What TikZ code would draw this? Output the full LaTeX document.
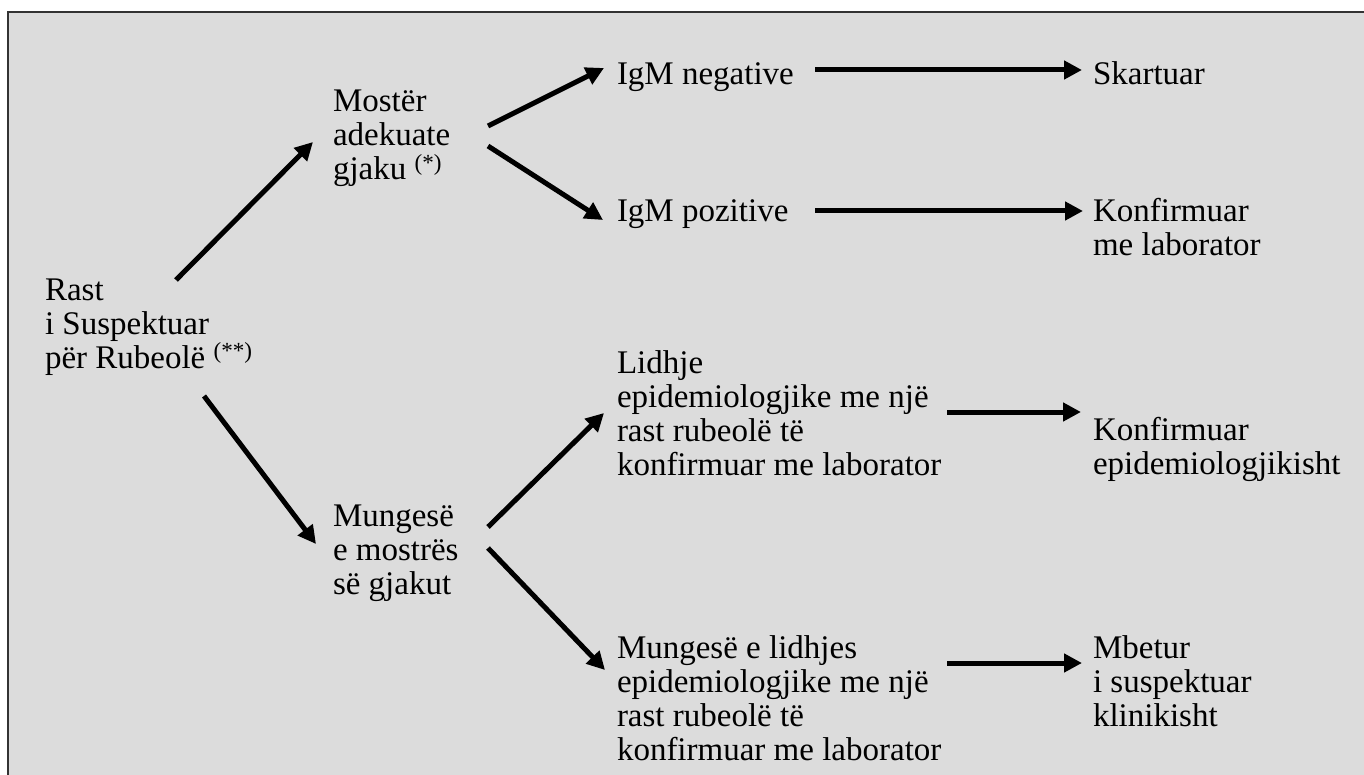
\documentclass[tikz,border=0pt]{standalone}
\usepackage{fontspec}
\setmainfont{Liberation Serif}
\usetikzlibrary{arrows.meta}
\definecolor{bg}{HTML}{DCDCDC}
\definecolor{framec}{HTML}{333333}
\begin{document}
\begin{tikzpicture}[x=1pt,y=-1pt,
  lbl/.style={anchor=base west,inner sep=0pt,outer sep=0pt,align=left,font=\fontsize{33}{34}\selectfont},
  arr/.style={line width=5pt,-{Triangle[length=18pt,width=18pt]}}]
\useasboundingbox (0,0) rectangle (1364,775);
\fill[white] (0,0) rectangle (1364,775);
\filldraw[fill=bg,draw=framec,line width=2pt] (8,12) rectangle (1385,795);

% anchors are at the baseline of each node's last line
\node[lbl] (R) at (45,368) {Rast\\i Suspektuar\\për Rubeolë \textsuperscript{(**)}};
\node[lbl] (M) at (333,180) {Mostër\\adekuate\\gjaku \textsuperscript{(*)}};
\node[lbl] (U) at (333,594) {Mungesë\\e mostrës\\së gjakut};
\node[lbl] (N) at (617,85) {IgM negative};
\node[lbl] (P) at (617,222) {IgM pozitive};
\node[lbl] (L) at (617,475) {Lidhje\\epidemiologjike me një\\rast rubeolë të\\konfirmuar me laborator};
\node[lbl] (W) at (617,760) {Mungesë e lidhjes\\epidemiologjike me një\\rast rubeolë të\\konfirmuar me laborator};
\node[lbl] (S) at (1093,85) {Skartuar};
\node[lbl] (K) at (1093,256) {Konfirmuar\\me laborator};
\node[lbl] (E) at (1093,474) {Konfirmuar\\epidemiologjikisht};
\node[lbl] (B) at (1093,726) {Mbetur\\i suspektuar\\klinikisht};

\draw[arr] ([shift={(131,-88)}]R.base west) -- ([shift={(-20,-38)}]M.base west);
\draw[arr] ([shift={(159,28)}]R.base west) -- ([shift={(-17,-50)}]U.base west);
\draw[arr] ([shift={(155,-54)}]M.base west) -- ([shift={(-13,-17)}]N.base west);
\draw[arr] ([shift={(155,-34)}]M.base west) -- ([shift={(-14,-2)}]P.base west);
\draw[arr] ([shift={(198,-15)}]N.base west) -- ([shift={(-11,-15)}]S.base west);
\draw[arr] ([shift={(198,-11)}]P.base west) -- ([shift={(-10,-45)}]K.base west);
\draw[arr] ([shift={(155,-67)}]U.base west) -- ([shift={(-13,-62)}]L.base west);
\draw[arr] ([shift={(155,-46)}]U.base west) -- ([shift={(-12,-90)}]W.base west);
\draw[arr] ([shift={(330,-63)}]L.base west) -- ([shift={(-12,-62)}]E.base west);
\draw[arr] ([shift={(330,-97)}]W.base west) -- ([shift={(-11,-63)}]B.base west);
\end{tikzpicture}
\end{document}
